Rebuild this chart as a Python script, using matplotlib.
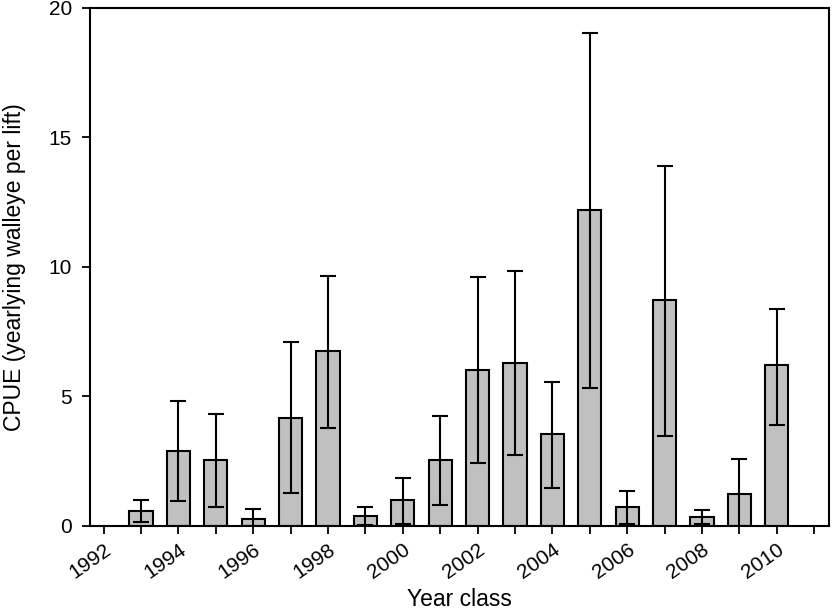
import numpy as np
import matplotlib
matplotlib.use("Agg")
import matplotlib.pyplot as plt

plt.rcParams['font.family'] = ['Liberation Sans', 'DejaVu Sans']

# 数据
years = np.arange(1993, 2011)
cpue = [0.58, 2.91, 2.55, 0.27, 4.18, 6.76, 0.39, 0.99, 2.55, 6.03,
        6.30, 3.54, 12.2, 0.73, 8.71, 0.36, 1.22, 6.2]
upper = [1.0, 4.84, 4.34, 0.64, 7.09, 9.66, 0.72, 1.87, 4.25, 9.6,
         9.85, 5.57, 19.05, 1.35, 13.9, 0.62, 2.57, 8.39]
lower = [0.15, 0.95, 0.75, 0.0, 1.29, 3.8, 0.05, 0.08, 0.82, 2.43,
         2.75, 1.48, 5.34, 0.09, 3.49, 0.09, 0.0, 3.91]

cpue = np.array(cpue)
yerr = [cpue - np.array(lower), np.array(upper) - cpue]

fig = plt.figure(figsize=(8.32, 6.13), dpi=100)
ax = fig.add_axes([0.108, 0.142, 0.8885, 0.845])

ax.bar(years, cpue, width=0.62, color='#c0c0c0', edgecolor='black', linewidth=1.5, zorder=2)
ax.errorbar(years, cpue, yerr=yerr, fmt='none', ecolor='black', elinewidth=1.5,
            capsize=6, capthick=1.5, zorder=3)

ax.set_xlim(1991.63, 2011.4)
ax.set_ylim(0, 20)
ax.set_xticks(np.arange(1992, 2012))
ax.set_xticklabels([str(y) if y % 2 == 0 and y <= 2010 else '' for y in range(1992, 2012)],
                   rotation=35, ha='right', rotation_mode='anchor')
ax.set_yticks([0, 5, 10, 15, 20])
ax.tick_params(direction='out', length=6, width=1.3, labelsize=15)
ax.tick_params(axis='y', pad=7)
ax.tick_params(axis='x', pad=4)
for s in ax.spines.values():
    s.set_linewidth(1.5)

ax.set_xlabel('Year class', fontsize=16.5, labelpad=4)
ax.set_ylabel('CPUE (yearlying walleye per lift)', fontsize=16.5, labelpad=16)

fig.savefig('out.png', dpi=100)
